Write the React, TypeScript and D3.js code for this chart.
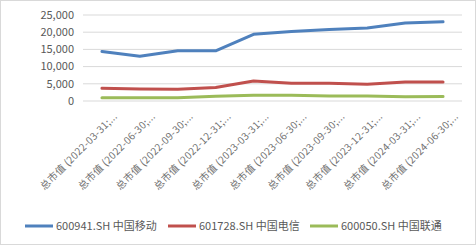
import React from "react";
import * as d3 from "d3";

const categories = [
  "总市值 (2022-03-31;...",
  "总市值 (2022-06-30;...",
  "总市值 (2022-09-30;...",
  "总市值 (2022-12-31;...",
  "总市值 (2023-03-31;...",
  "总市值 (2023-06-30;...",
  "总市值 (2023-09-30;...",
  "总市值 (2023-12-31;...",
  "总市值 (2024-03-31;...",
  "总市值 (2024-06-30;...",
];
const seriesNames = ["600941.SH 中国移动", "601728.SH 中国电信", "600050.SH 中国联通"];
const mobile = [14400, 13000, 14600, 14600, 19400, 20200, 20800, 21200, 22700, 23050];
const telecom = [3700, 3500, 3400, 3900, 5800, 5150, 5150, 4900, 5500, 5500];
const unicom = [960, 950, 950, 1350, 1650, 1650, 1450, 1450, 1250, 1300];
const yTicks = [0, 5000, 10000, 15000, 20000, 25000];
const colors = ["#4F81BD", "#C0504D", "#9BBB59"];

export default function App() {
  const W = 476, H = 245;
  const x = d3.scaleBand<string>().domain(categories).range([83, 462]).padding(0);
  const y = d3.scaleLinear().domain([0, 25000]).range([101, 15]);
  const line = d3
    .line<number>()
    .x((_, i) => (x(categories[i]) as number) + x.bandwidth() / 2)
    .y((d) => y(d));
  const all = [mobile, telecom, unicom];
  const fmt = d3.format(",");
  const legendX = [25, 168, 310];
  return (
    <svg width={W} height={H} style={{ position: "absolute", left: 0, top: 0, background: "#fff" }}
      fontFamily="'Noto Sans CJK SC', 'DejaVu Sans', sans-serif">
      <rect x={0.5} y={0.5} width={W - 1} height={H - 1} fill="#fff" stroke="#d9d9d9" />
      {yTicks.map((t) => (
        <g key={t}>
          <line x1={83} x2={462} y1={y(t)} y2={y(t)} stroke="#d9d9d9" strokeWidth={1} />
          <text x={74} y={y(t)} dy="0.35em" textAnchor="end" fontSize={11} fill="#595959">
            {fmt(t)}
          </text>
        </g>
      ))}
      {all.map((s, i) => (
        <path key={i} d={line(s) as string} fill="none" stroke={colors[i]} strokeWidth={3} strokeLinejoin="round" strokeLinecap="round" />
      ))}
      {categories.map((c) => {
        const cx = (x(c) as number) + x.bandwidth() / 2;
        return (
          <text key={c} transform={`translate(${cx + 16},${117}) rotate(-45)`} textAnchor="end" fontSize={10} letterSpacing={0.3} fill="#707070">
            {c}
          </text>
        );
      })}
      {seriesNames.map((n, i) => (
        <g key={n}>
          <line x1={legendX[i]} x2={legendX[i] + 28} y1={226} y2={226} stroke={colors[i]} strokeWidth={3} />
          <text x={legendX[i] + 31} y={226} dy="0.35em" fontSize={11} fill="#595959">{n}</text>
        </g>
      ))}
    </svg>
  );
}
